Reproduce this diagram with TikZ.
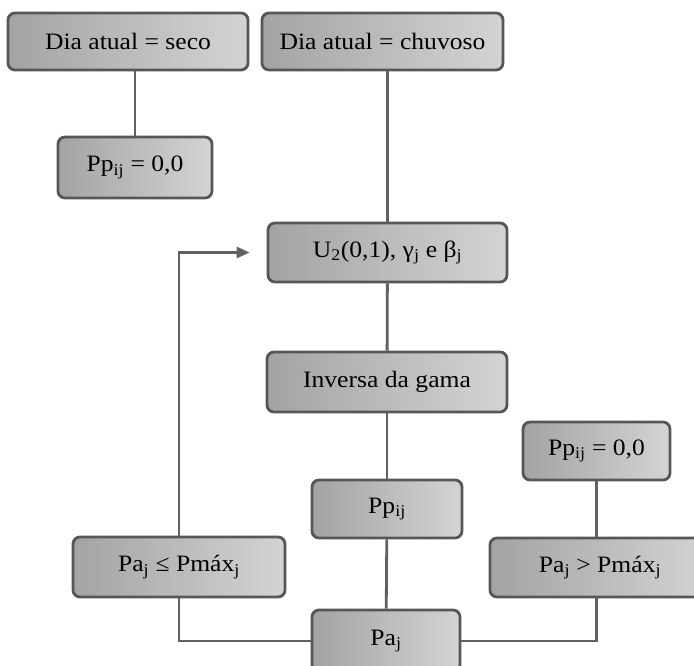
\documentclass[tikz,border=0pt]{standalone}
\usepackage{fontspec}
\setmainfont{Liberation Serif}[FakeStretch=1.09]
\usetikzlibrary{arrows.meta}
\tikzset{stepbox/.style={draw=black!66,line width=2.8pt,rounded corners=7pt,
  left color=black!36,right color=black!17,inner sep=0pt},
  link/.style={draw=black!62,line width=2.8pt}}
\begin{document}
\begin{tikzpicture}[x=1pt,y=-1pt,font=\fontsize{23.5}{27}\selectfont]
\useasboundingbox (0,0) rectangle (694,665);
\clip (0,0) rectangle (694,665);
\fill[white] (0,0) rectangle (694,665);
\node[stepbox,minimum width=240pt,minimum height=57pt] (seco) at (128,41.5) {Dia atual = seco};
\node[stepbox,minimum width=241pt,minimum height=57pt] (chuv) at (382.5,41.5) {Dia atual = chuvoso};
\node[stepbox,minimum width=154pt,minimum height=61pt] (ppzero) at (135,167.5) {Pp\textsubscript{ij} = 0,0};
\node[stepbox,minimum width=239pt,minimum height=59pt] (unif) at (387.5,252.5) {U\textsubscript{2}(0,1), γ\textsubscript{j} e β\textsubscript{j}};
\node[stepbox,minimum width=240pt,minimum height=60pt] (inv) at (387,382) {Inversa da gama};
\node[stepbox,minimum width=147pt,minimum height=58pt] (ppnull) at (596.5,451) {Pp\textsubscript{ij} = 0,0};
\node[stepbox,minimum width=150pt,minimum height=58pt] (pp) at (387,509) {Pp\textsubscript{ij}};
\node[stepbox,minimum width=212pt,minimum height=60pt] (pale) at (179,567) {Pa\textsubscript{j} ≤ Pmáx\textsubscript{j}};
\node[stepbox,minimum width=220pt,minimum height=59pt] (pagt) at (600,567.5) {Pa\textsubscript{j} > Pmáx\textsubscript{j}};
\node[stepbox,minimum width=148pt,minimum height=62pt] (pa) at (386,641) {Pa\textsubscript{j}};
% connectors
\draw[link] (seco.south -| ppzero.north) -- (ppzero.north);
\draw[link] (chuv.south -| unif.north) -- (unif.north);
\draw[link] (unif) -- (inv); \draw[link] (inv) -- (pp);
\draw[link] (pp) -- (pa);
\draw[link] (ppnull.south) -- (ppnull.south |- pagt.north);
\draw[link] (pale.south) |- (pa.west);
\draw[link] (ppnull.south |- pagt.south) |- (pa.east);
\draw[link,-{Triangle[length=13pt,width=11pt]}] (pale.north) |- ([xshift=-17pt]unif.west);
\end{tikzpicture}
\end{document}
